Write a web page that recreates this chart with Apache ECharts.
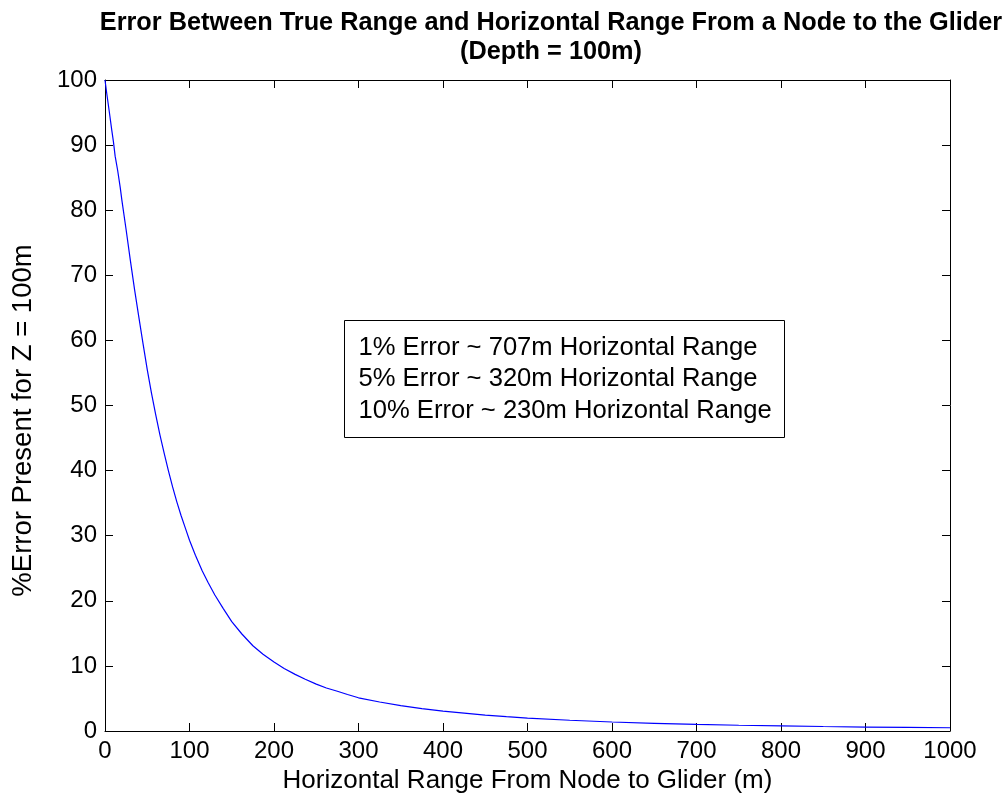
<!DOCTYPE html>
<html>
<head>
<meta charset="utf-8">
<script src="https://cdn.jsdelivr.net/npm/echarts@6/dist/echarts.min.js"></script>
<style>html,body{margin:0;padding:0;background:#fff;}#chart{width:1008px;height:805px;}</style>
</head>
<body>
<div id="chart"></div>
<script>
// Horizontal range from node to glider (m)
const rangeM = [0, 2, 5, 8, 10, 12, 15, 18, 20, 25, 30, 35, 40, 45, 50, 55, 60, 65, 70, 75, 80, 85, 90, 95, 100, 107, 115, 122, 130, 140, 150, 162, 175, 187, 200, 212, 225, 237, 250, 262, 275, 287, 300, 325, 350, 375, 400, 425, 450, 475, 500, 550, 600, 650, 700, 750, 800, 850, 900, 950, 1000];
// % error present for Z = 100m
const errorPct = [100, 98, 95.2, 92.3, 90.5, 88.3, 86.1, 83.5, 81.5, 77.0, 72.3, 67.8, 63.6, 59.5, 55.5, 51.9, 48.6, 45.5, 42.7, 40.0, 37.5, 35.2, 33.1, 31.2, 29.3, 27.0, 24.6, 22.8, 20.9, 18.8, 16.8, 14.9, 13.1, 11.8, 10.6, 9.6, 8.7, 7.95, 7.2, 6.6, 6.1, 5.6, 5.1, 4.45, 3.9, 3.45, 3.05, 2.75, 2.45, 2.2, 1.98, 1.65, 1.38, 1.18, 1.01, 0.88, 0.78, 0.69, 0.61, 0.55, 0.50];
const xTicks = [0, 100, 200, 300, 400, 500, 600, 700, 800, 900, 1000];
const yTicks = [0, 10, 20, 30, 40, 50, 60, 70, 80, 90, 100];
const noteLines = ['1% Error ~ 707m Horizontal Range', '5% Error ~ 320m Horizontal Range', '10% Error ~ 230m Horizontal Range'];

const FONT = "'Liberation Sans', Arial, Helvetica, sans-serif";
const chart = echarts.init(document.getElementById('chart'), null, {renderer: 'canvas'});
const seriesData = rangeM.map((x, i) => [x, errorPct[i]]);

const axisCommon = {
  axisLine: {show: true, onZero: false, lineStyle: {color: '#000', width: 1}},
  axisTick: {show: true, inside: true, length: 8, lineStyle: {color: '#000'}},
  splitLine: {show: false}
};

chart.setOption({
  animation: false,
  backgroundColor: '#fff',
  title: {
    text: 'Error Between True Range and Horizontal Range From a Node to the Glider\n(Depth = 100m)',
    left: 546, top: 4, textAlign: 'center',
    textStyle: {fontFamily: FONT, fontWeight: 'bold', fontSize: 25.3, color: '#000', lineHeight: 29}
  },
  grid: {left: 105, right: 58, top: 80, bottom: 74, containLabel: false},
  xAxis: [
    Object.assign({}, axisCommon, {
      type: 'value', min: xTicks[0], max: xTicks[xTicks.length - 1], interval: xTicks[1] - xTicks[0], position: 'bottom',
      name: 'Horizontal Range From Node to Glider (m)', nameLocation: 'middle', nameGap: 29,
      nameTextStyle: {fontFamily: FONT, fontSize: 26, color: '#000'},
      axisLabel: {fontFamily: FONT, fontSize: 24, color: '#000', margin: 8, formatter: v => String(v)}
    }),
    Object.assign({}, axisCommon, {
      type: 'value', min: xTicks[0], max: xTicks[xTicks.length - 1], interval: xTicks[1] - xTicks[0], position: 'top',
      axisLabel: {show: false}
    })
  ],
  yAxis: [
    Object.assign({}, axisCommon, {
      type: 'value', min: yTicks[0], max: yTicks[yTicks.length - 1], interval: yTicks[1] - yTicks[0], position: 'left',
      name: '%Error Present for Z = 100m', nameLocation: 'middle', nameGap: 68, nameRotate: 90,
      nameTextStyle: {fontFamily: FONT, fontSize: 27.5, color: '#000', padding: [0, 30, 0, 0]},
      axisLabel: {fontFamily: FONT, fontSize: 24, color: '#000', margin: 8, formatter: v => String(v)}
    }),
    Object.assign({}, axisCommon, {
      type: 'value', min: yTicks[0], max: yTicks[yTicks.length - 1], interval: yTicks[1] - yTicks[0], position: 'right',
      axisLabel: {show: false}
    })
  ],
  series: [{
    type: 'line', data: seriesData, xAxisIndex: 0, yAxisIndex: 0,
    showSymbol: false, smooth: false,
    lineStyle: {color: '#0000ff', width: 1.2}
  }],
  graphic: [{
    type: 'group', left: 344, top: 320,
    children: [
      {type: 'rect', shape: {x: 0, y: 0, width: 440, height: 117}, style: {fill: '#fff', stroke: '#000', lineWidth: 1}},
      {type: 'text', x: 14, y: 27, style: {text: noteLines[0], font: '25.6px ' + FONT, fill: '#000', verticalAlign: 'middle'}},
      {type: 'text', x: 14, y: 58, style: {text: noteLines[1], font: '25.6px ' + FONT, fill: '#000', verticalAlign: 'middle'}},
      {type: 'text', x: 14, y: 90, style: {text: noteLines[2], font: '25.6px ' + FONT, fill: '#000', verticalAlign: 'middle'}}
    ]
  }]
});
</script>
</body>
</html>
